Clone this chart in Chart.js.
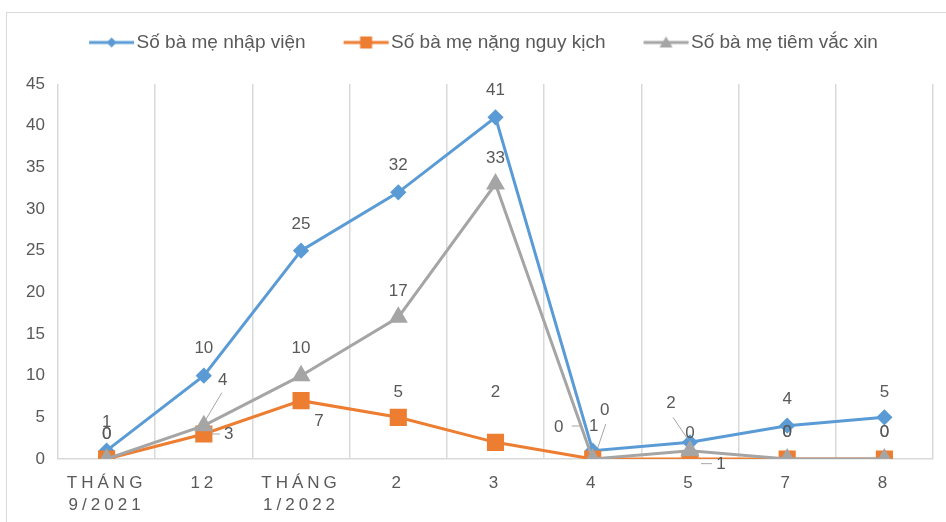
<!DOCTYPE html>
<html>
<head>
<meta charset="utf-8">
<script src="https://cdn.jsdelivr.net/npm/chart.js@4.4.1/dist/chart.umd.min.js"></script>
<style>
  html, body { margin: 0; padding: 0; background: #fff; }
  #wrap { position: relative; width: 946px; height: 522px; overflow: hidden; }
  #frame { position: absolute; left: 6px; top: 12px; width: 1000px; height: 1000px; border: 1.5px solid #d9d9d9; }
  canvas { position: absolute; left: 0; top: 0; }
</style>
</head>
<body>
<div id="wrap"><div id="frame"></div><canvas id="chart" width="946" height="522"></canvas></div>
<script>
var labels = [['THÁNG', '9/2021'], '12', ['THÁNG', '1/2022'], '2', '3', '4', '5', '7', '8'];
var nhapVien = [1, 10, 25, 32, 41, 1, 2, 4, 5];
var nangNguyKich = [0, 3, 7, 5, 2, 0, 0, 0, 0];
var tiemVacXin = [0, 4, 10, 17, 33, 0, 1, 0, 0];
var yMin = 0, yMax = 45, yStep = 5;

var textColor = '#595959';
var colors = ['#5b9bd5', '#ed7d31', '#a5a5a5'];
var fontFamily = '"Liberation Sans", Arial, sans-serif';

// label offsets from the point (dx, dy) and optional leader lines
var labelPos = [
  [[0, -28], [0, -27], [0, -26], [0, -27], [0, -27], [1, -24], [-19, -39], [0, -26], [0, -25]],
  [[0, -25], [25, 0], [18, 21], [0, -25], [0, -50], [-34, -32], [0, -26], [0, -27], [0, -27]],
  [[0, -25], [19, -45], [0, -27], [0, -26], [0, -26], [12, -49], [31, 14], [0, -27], [0, -27]]
];
var leaders = [
  {6: [-17, -25, -2, -3]},
  {1: [8, 0, 16, 0], 5: [-21, -33, -12, -33]},
  {1: [18, -33, -1, -1], 5: [13, -35, 5, -11], 6: [11, 13, 22, 13]}
];

function legendMark(color, shape) {
  var c = document.createElement('canvas');
  c.width = 82; c.height = 16;
  var g = c.getContext('2d');
  g.strokeStyle = color; g.fillStyle = color; g.lineWidth = 3;
  g.beginPath(); g.moveTo(36, 8); g.lineTo(81, 8); g.stroke();
  var cx = 58.5, cy = 8;
  g.beginPath();
  if (shape === 'diamond') {
    g.moveTo(cx - 5, cy); g.lineTo(cx, cy - 5); g.lineTo(cx + 5, cy); g.lineTo(cx, cy + 5);
  } else if (shape === 'square') {
    g.rect(cx - 6, cy - 6, 12, 12);
  } else {
    g.moveTo(cx, cy - 6); g.lineTo(cx + 6.5, cy + 5); g.lineTo(cx - 6.5, cy + 5);
  }
  g.closePath(); g.fill();
  return c;
}
var marks = [legendMark(colors[0], 'diamond'), legendMark(colors[1], 'square'), legendMark(colors[2], 'triangle')];

var legendGap = {
  id: 'legendGap',
  beforeLayout: function (chart) {
    var lg = chart.legend;
    if (lg && !lg._gap) {
      var fit = lg.fit;
      lg.fit = function () { fit.call(this); this.height += 22; };
      lg._gap = true;
    }
  },
  afterLayout: function (chart) {
    var lg = chart.legend;
    if (lg) { lg.left += 2; lg.right += 2; }
  }
};

var xSpacing = {
  id: 'xSpacing',
  beforeDraw: function (chart) {
    var sc = chart.scales.x;
    if (sc && !sc._sp) {
      var dl = sc.drawLabels;
      sc.drawLabels = function (area) {
        this.ctx.save();
        this.ctx.letterSpacing = '4px';
        dl.call(this, area);
        this.ctx.restore();
      };
      sc._sp = true;
    }
  }
};

var valueLabels = {
  id: 'valueLabels',
  afterDatasetsDraw: function (chart) {
    var ctx = chart.ctx;
    ctx.save();
    ctx.font = '17px ' + fontFamily;
    ctx.fillStyle = textColor;
    ctx.textAlign = 'center';
    ctx.textBaseline = 'middle';
    ctx.strokeStyle = '#a6a6a6';
    ctx.lineWidth = 1;
    chart.data.datasets.forEach(function (ds, i) {
      var meta = chart.getDatasetMeta(i);
      meta.data.forEach(function (pt, j) {
        var off = labelPos[i][j];
        var ld = leaders[i][j];
        if (ld) {
          ctx.beginPath();
          ctx.moveTo(pt.x + ld[0], pt.y + ld[1]);
          ctx.lineTo(pt.x + ld[2], pt.y + ld[3]);
          ctx.stroke();
        }
        ctx.fillText(String(ds.data[j]), pt.x + off[0], pt.y + off[1]);
      });
    });
    ctx.restore();
  }
};

var ctx = document.getElementById('chart').getContext('2d');
new Chart(ctx, {
  type: 'line',
  data: {
    labels: labels,
    datasets: [
      {
        label: 'Số bà mẹ nhập viện',
        data: nhapVien,
        borderColor: colors[0], backgroundColor: colors[0],
        borderWidth: 3, pointStyle: 'rectRot', pointRadius: 6, pointHoverRadius: 6,
        order: 3
      },
      {
        label: 'Số bà mẹ nặng nguy kịch',
        data: nangNguyKich,
        borderColor: colors[1], backgroundColor: colors[1],
        borderWidth: 3, pointStyle: 'rect', pointRadius: 10, pointHoverRadius: 10,
        order: 2
      },
      {
        label: 'Số bà mẹ tiêm vắc xin',
        data: tiemVacXin,
        borderColor: colors[2], backgroundColor: colors[2],
        borderWidth: 3, pointStyle: 'triangle', pointRadius: 8, pointHoverRadius: 8,
        order: 1
      }
    ]
  },
  options: {
    responsive: false,
    animation: false,
    layout: { padding: { left: 0, right: 11, top: 23, bottom: 0 } },
    plugins: {
      tooltip: { enabled: false },
      legend: {
        position: 'top',
        labels: {
          usePointStyle: true,
          pointStyleWidth: 66,
          padding: 10,
          color: textColor,
          font: { family: fontFamily, size: 19 },
          generateLabels: function (chart) {
            return chart.data.datasets.map(function (ds, i) {
              return {
                text: ds.label, fillStyle: ds.borderColor, strokeStyle: ds.borderColor,
                lineWidth: 0, pointStyle: marks[i], datasetIndex: i, hidden: false, fontColor: textColor
              };
            });
          }
        }
      }
    },
    scales: {
      x: {
        offset: true,
        grid: { display: true, offset: true, color: '#d9d9d9', lineWidth: 1.5, drawTicks: false },
        border: { display: true, color: '#d9d9d9', width: 1.5 },
        ticks: {
          color: textColor, padding: 14, maxRotation: 0, autoSkip: false,
          font: { family: fontFamily, size: 17, lineHeight: 1.25 }
        },
        afterFit: function (scale) { scale.height = 63; }
      },
      y: {
        min: yMin, max: yMax,
        grid: { display: false, drawTicks: false },
        border: { display: false },
        ticks: {
          stepSize: yStep, color: textColor, padding: 13,
          font: { family: fontFamily, size: 17 }
        },
        afterFit: function (scale) { scale.width = 58; }
      }
    }
  },
  plugins: [legendGap, xSpacing, valueLabels]
});
</script>
</body>
</html>
